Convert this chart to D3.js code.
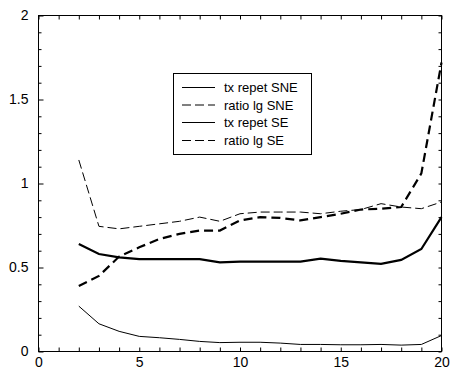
<!DOCTYPE html>
<html>
<head>
<meta charset="utf-8">
<script src="https://cdn.jsdelivr.net/npm/d3@7"></script>
<style>
  body { margin: 0; background: #fff; }
  svg { display: block; font-family: "Liberation Sans", Arial, sans-serif; }
  .axis text { font-size: 14px; fill: #000; }
  .axis line { stroke: #000; }
</style>
</head>
<body>
<svg id="chart"></svg>
<script>
const width = 459;
const height = 378;

const xValues = [2, 3, 4, 5, 6, 7, 8, 9, 10, 11, 12, 13, 14, 15, 16, 17, 18, 19, 20];
const txRepetSNE = [0.27, 0.165, 0.12, 0.09, 0.082, 0.072, 0.06, 0.053, 0.055, 0.055, 0.05, 0.042, 0.042, 0.04, 0.04, 0.042, 0.038, 0.042, 0.095];
const ratioLgSNE = [1.14, 0.745, 0.73, 0.745, 0.76, 0.775, 0.8, 0.775, 0.82, 0.83, 0.83, 0.83, 0.82, 0.835, 0.845, 0.88, 0.86, 0.85, 0.89];
const txRepetSE = [0.64, 0.58, 0.56, 0.55, 0.55, 0.55, 0.55, 0.53, 0.535, 0.535, 0.535, 0.535, 0.553, 0.54, 0.53, 0.522, 0.545, 0.61, 0.8];
const ratioLgSE = [0.39, 0.45, 0.565, 0.62, 0.67, 0.7, 0.72, 0.72, 0.78, 0.8, 0.795, 0.78, 0.8, 0.82, 0.845, 0.85, 0.86, 1.06, 1.72];

const xLabelTicks = [0, 5, 10, 15, 20];
const yLabelTicks = [0, 0.5, 1, 1.5, 2];
const legendLabels = ["tx repet SNE", "ratio lg SNE", "tx repet SE", "ratio lg SE"];

const plotLeft = 38.5, plotRight = 441.5, plotTop = 15.5, plotBottom = 351.5;

const svg = d3.select("#chart").attr("width", width).attr("height", height);

const x = d3.scaleLinear().domain([0, 20]).range([plotLeft, plotRight]);
const y = d3.scaleLinear().domain([0, 2]).range([plotBottom, plotTop]);

const xTicks = d3.range(0, 21, 1);
const yTicks = d3.range(0, 21, 1).map(d => d / 10);
const isYMajor = d => yLabelTicks.some(v => Math.abs(v - d) < 1e-6);

// bottom axis with labels
svg.append("g")
  .attr("class", "axis")
  .attr("transform", `translate(0,${plotBottom})`)
  .call(d3.axisBottom(x).tickValues(xTicks).tickSize(-4).tickPadding(6)
    .tickFormat(d => xLabelTicks.includes(d) ? d : ""))
  .call(g => g.select(".domain").remove());

// top axis, ticks only
svg.append("g")
  .attr("class", "axis")
  .attr("transform", `translate(0,${plotTop})`)
  .call(d3.axisTop(x).tickValues(xTicks).tickSize(-4).tickFormat(""))
  .call(g => g.select(".domain").remove());

// left axis with labels
svg.append("g")
  .attr("class", "axis")
  .attr("transform", `translate(${plotLeft},0)`)
  .call(d3.axisLeft(y).tickValues(yTicks).tickSize(-3).tickPadding(10)
    .tickFormat(d => isYMajor(d) ? d3.format("")(+d.toFixed(1)) : ""))
  .call(g => g.select(".domain").remove())
  .call(g => g.selectAll(".tick line").attr("x2", d => isYMajor(d) ? 5 : 3));

// right axis, ticks only
svg.append("g")
  .attr("class", "axis")
  .attr("transform", `translate(${plotRight},0)`)
  .call(d3.axisRight(y).tickValues(yTicks).tickSize(-3).tickFormat(""))
  .call(g => g.select(".domain").remove());

svg.append("rect")
  .attr("x", plotLeft).attr("y", plotTop)
  .attr("width", plotRight - plotLeft).attr("height", plotBottom - plotTop)
  .attr("fill", "none").attr("stroke", "#000");

const line = d3.line().x((d, i) => x(xValues[i])).y(d => y(d));

const series = [
  { values: txRepetSNE, width: 1, dash: null },
  { values: ratioLgSNE, width: 1, dash: "9,4" },
  { values: txRepetSE, width: 2.2, dash: null },
  { values: ratioLgSE, width: 2.2, dash: "9,5" }
];

svg.selectAll(".series")
  .data(series)
  .enter()
  .append("path")
  .attr("class", "series")
  .attr("d", d => line(d.values))
  .attr("fill", "none")
  .attr("stroke", "#000")
  .attr("stroke-width", d => d.width)
  .attr("stroke-dasharray", d => d.dash);

// legend
const legend = svg.append("g").attr("id", "legend");

legend.append("rect")
  .attr("x", 173.5).attr("y", 73.5)
  .attr("width", 138).attr("height", 81)
  .attr("fill", "#fff").attr("stroke", "#000");

const rowY = [87, 104.5, 122, 140];

legend.selectAll(".legend-line")
  .data(series)
  .enter()
  .append("line")
  .attr("x1", 182).attr("x2", 215)
  .attr("y1", (d, i) => rowY[i] + 0.5).attr("y2", (d, i) => rowY[i] + 0.5)
  .attr("stroke", "#000")
  .attr("stroke-width", 1)
  .attr("stroke-dasharray", d => d.dash ? "9,4" : null);

legend.selectAll(".legend-text")
  .data(legendLabels)
  .enter()
  .append("text")
  .attr("x", 224)
  .attr("y", (d, i) => rowY[i] + 5)
  .attr("font-size", "13px")
  .text(d => d);
</script>
</body>
</html>
